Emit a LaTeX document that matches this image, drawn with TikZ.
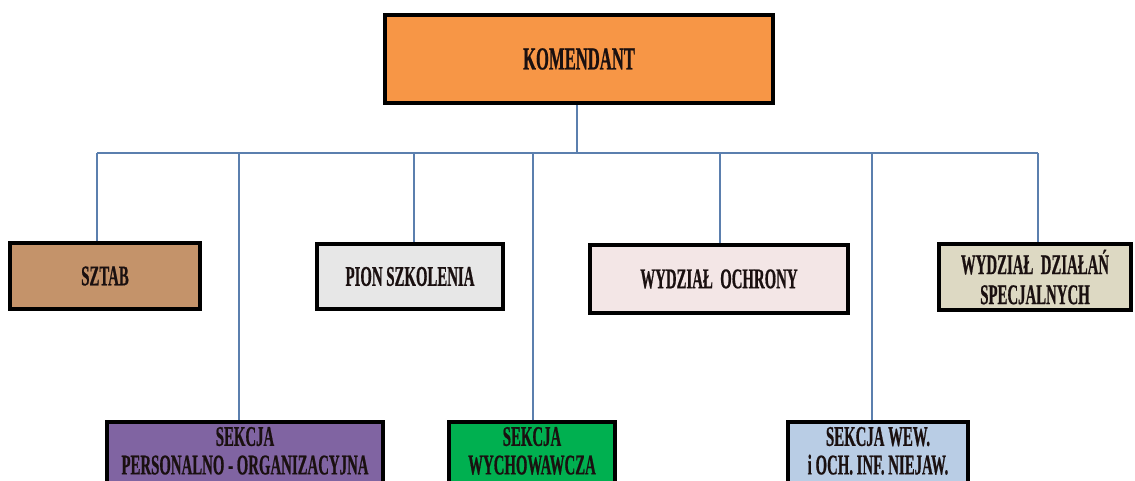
\documentclass[tikz,border=0pt]{standalone}
\usepackage{fontspec}
\setmainfont{Liberation Serif}[FakeStretch=0.52,BoldFeatures={FakeBold=0.6}]
\definecolor{cKom}{HTML}{F79646}
\definecolor{cSztab}{HTML}{C4936A}
\definecolor{cPion}{HTML}{E7E7E7}
\definecolor{cOch}{HTML}{F3E6E6}
\definecolor{cDzial}{HTML}{DDD9C3}
\definecolor{cPers}{HTML}{8064A2}
\definecolor{cWych}{HTML}{00B050}
\definecolor{cWew}{HTML}{B9CDE5}
\definecolor{cLine}{HTML}{5B7FAE}
\definecolor{cText}{HTML}{1A1010}
\tikzset{
  orgbox/.style={draw=black, line width=4pt, inner sep=0pt, align=center, text=cText,
    font=\fontsize{28.5}{30}\selectfont\bfseries},
  lowbox/.style={orgbox, anchor=north, inner xsep=0pt, inner ysep=5pt, text depth=40pt,
    font=\fontsize{28.5}{28.5}\selectfont\bfseries},
  conn/.style={draw=cLine, line width=2pt}
}
\begin{document}
\begin{tikzpicture}[x=1pt,y=-1pt]
\useasboundingbox (0,0) rectangle (1135,481);
\clip (0,0) rectangle (1135,481);
\fill[white] (0,0) rectangle (1135,481);
% top
\node[orgbox, fill=cKom, minimum width=388pt, minimum height=88pt,
  font=\fontsize{32}{34}\selectfont\bfseries] (kom) at (579,59) {KOMENDANT};
% middle row
\node[orgbox, fill=cSztab, minimum width=190pt, minimum height=66pt] (sztab) at (105,276) {SZTAB};
\node[orgbox, fill=cPion, minimum width=186pt, minimum height=65pt] (pion) at (410,276.5) {PION SZKOLENIA};
\node[orgbox, fill=cOch, minimum width=258pt, minimum height=68pt] (och) at (719,279) {WYDZIAŁ\ \ OCHRONY};
\node[orgbox, fill=cDzial, minimum width=192pt, minimum height=66pt] (dzial) at (1035,277) {WYDZIAŁ\ \ DZIAŁAŃ\\SPECJALNYCH};
% bottom row
\node[lowbox, fill=cPers, minimum width=276pt] (pers) at (245,420) {SEKCJA\\PERSONALNO - ORGANIZACYJNA};
\node[lowbox, fill=cWych, minimum width=166pt] (wych) at (532,420) {SEKCJA\\WYCHOWAWCZA};
\node[lowbox, fill=cWew, minimum width=180pt] (wew) at (878,420) {SEKCJA WEW.\\i OCH. INF. NIEJAW.};
% connectors
\coordinate (hubL) at (97,153);
\coordinate (hubR) at (1038,153);
\draw[conn] ([xshift=-2pt]kom.south) -- ([xshift=-2pt]kom.south |- hubL);
\draw[conn] (hubL) -- (hubR);
\draw[conn] (hubL) -- (hubL |- sztab.north);
\draw[conn] ([xshift=-6pt]pers.north |- hubL) -- ([xshift=-6pt]pers.north);
\draw[conn] ([xshift=4pt]pion.north |- hubL) -- ([xshift=4pt]pion.north);
\draw[conn] ([xshift=1pt]wych.north |- hubL) -- ([xshift=1pt]wych.north);
\draw[conn] ([xshift=1pt]och.north |- hubL) -- ([xshift=1pt]och.north);
\draw[conn] ([xshift=-6pt]wew.north |- hubL) -- ([xshift=-6pt]wew.north);
\draw[conn] (hubR) -- (hubR |- dzial.north);
\end{tikzpicture}
\end{document}
